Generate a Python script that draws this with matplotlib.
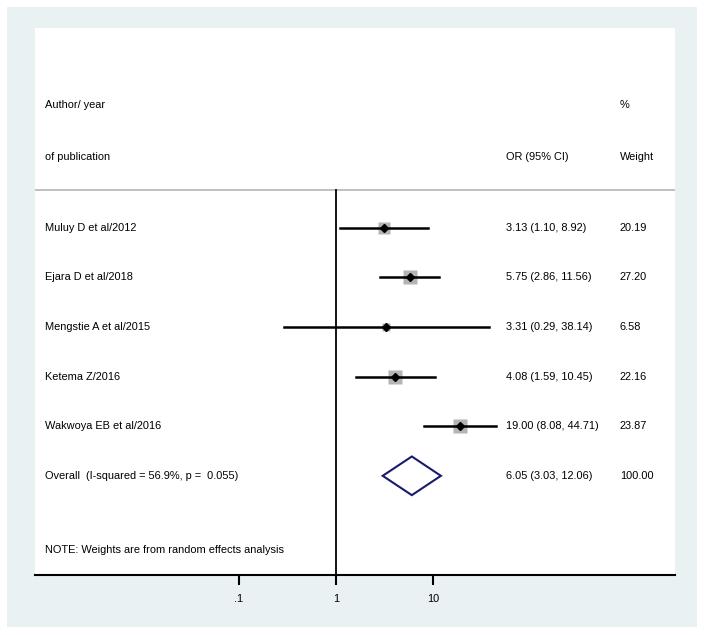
import numpy as np
import matplotlib.pyplot as plt
from matplotlib.patches import Rectangle, Polygon

# study data
studies = ["Muluy D et al/2012", "Ejara D et al/2018", "Mengstie A et al/2015",
           "Ketema Z/2016", "Wakwoya EB et al/2016"]
odds_ratio = [3.13, 5.75, 3.31, 4.08, 19.00]
ci_low = [1.10, 2.86, 0.29, 1.59, 8.08]
ci_high = [8.92, 11.56, 38.14, 10.45, 44.71]
weights = [20.19, 27.20, 6.58, 22.16, 23.87]

overall_label = "Overall  (I-squared = 56.9%, p =  0.055)"
overall_or = 6.05
overall_low = 3.03
overall_high = 12.06
overall_weight = 100.00

tick_values = [0.1, 1, 10]
tick_labels = [".1", "1", "10"]

plt.rcParams['font.family'] = ['Liberation Sans', 'DejaVu Sans']
fs = 7.9

fig = plt.figure(figsize=(7.04, 6.35), dpi=100)
fig.patch.set_facecolor("white")
# stata-like graph region
fig.patches.append(Rectangle((7 / 704, 1 - 627 / 635), 690 / 704, 620 / 635,
                             transform=fig.transFigure, facecolor="#eaf1f2",
                             edgecolor="none", zorder=-1))

ax = fig.add_axes([35 / 704, 1 - 575 / 635, 640 / 704, 547 / 635])
ax.set_zorder(1)
ax.set_facecolor("white")
ax.set_xscale("log")
ax.set_xlim(10 ** (-301 / 97), 10 ** (339 / 97))
ax.set_ylim(7.0, -4.03)

for s in ["top", "right", "left"]:
    ax.spines[s].set_visible(False)
ax.spines["bottom"].set_linewidth(1.5)
ax.set_yticks([])
ax.set_xticks(tick_values)
ax.set_xticklabels(tick_labels, fontsize=fs)
ax.minorticks_off()
ax.tick_params(axis="x", length=7, width=1.5, pad=7)

# no-effect line
ax.plot([1, 1], [-0.77, 7.0], color="black", lw=1.3, zorder=2)
# header separator
ax.axhline(-0.77, color="#b5b5b5", lw=1.2, zorder=1)

tr = ax.get_yaxis_transform()
x_lab = 10 / 640
x_or = 471 / 640
x_w = 585 / 640

ax.text(x_lab, -2.48, "Author/ year", transform=tr, fontsize=fs, va="center")
ax.text(x_lab, -1.43, "of publication", transform=tr, fontsize=fs, va="center")
ax.text(x_or, -1.43, "OR (95% CI)", transform=tr, fontsize=fs, va="center")
ax.text(x_w, -2.48, "%", transform=tr, fontsize=fs, va="center")
ax.text(x_w, -1.43, "Weight", transform=tr, fontsize=fs, va="center")

for i, name in enumerate(studies):
    ax.plot([ci_low[i], ci_high[i]], [i, i], color="black", lw=1.8, zorder=3)
    ax.plot(odds_ratio[i], i, marker="s", ms=2.05 * np.sqrt(weights[i]),
            color="#b4b4b4", mec="none", zorder=2.5)
    ax.plot(odds_ratio[i], i, marker="D", ms=4.5, color="black", zorder=4)
    ax.text(x_lab, i, name, transform=tr, fontsize=fs, va="center")
    ax.text(x_or, i, f"{odds_ratio[i]:.2f} ({ci_low[i]:.2f}, {ci_high[i]:.2f})",
            transform=tr, fontsize=fs, va="center")
    ax.text(x_w, i, f"{weights[i]:.2f}", transform=tr, fontsize=fs, va="center")

yo = len(studies)
h = 0.39
ax.add_patch(Polygon([[overall_low, yo], [overall_or, yo - h],
                      [overall_high, yo], [overall_or, yo + h]],
                     closed=True, facecolor="none", edgecolor="#1a1a6e",
                     lw=1.5, zorder=3))
ax.text(x_lab, yo, overall_label, transform=tr, fontsize=fs, va="center")
ax.text(x_or, yo, f"{overall_or:.2f} ({overall_low:.2f}, {overall_high:.2f})",
        transform=tr, fontsize=fs, va="center")
ax.text(x_w, yo, f"{overall_weight:.2f}", transform=tr, fontsize=fs, va="center")

ax.text(x_lab, 6.49, "NOTE: Weights are from random effects analysis",
        transform=tr, fontsize=fs, va="center")

fig.savefig("out.png", dpi=100)
